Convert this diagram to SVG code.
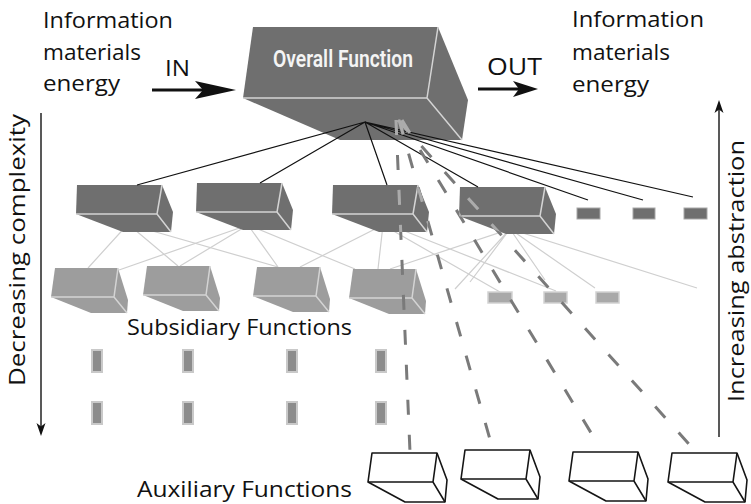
<svg xmlns="http://www.w3.org/2000/svg" xmlns:xlink="http://www.w3.org/1999/xlink" width="751" height="504" viewBox="0 0 751 504">
  <style>
    .lbl { font-family: "Open Sans", "Noto Sans", "DejaVu Sans", sans-serif; font-size: 21px; fill: #111; }
    .title { font-family: Roboto, "Open Sans", sans-serif; font-size: 24px; font-weight: 600; fill: #f4f4f4; }
    .dark { fill: #6f6f6f; }
    .mid { fill: #9d9d9d; }
    .hl { fill: none; stroke: #d4d4d4; stroke-width: 1.5; }
    .aux { fill: #fff; stroke: #151515; stroke-width: 1.6; stroke-linejoin: round; }
    .auxin { fill: none; stroke: #151515; stroke-width: 1.6; }
    .tie { stroke: #111; stroke-width: 1.2; fill: none; }
    .web { stroke: #cfcfcf; stroke-width: 1.2; fill: none; }
    .dash { stroke: #7a7a7a; stroke-width: 3; stroke-dasharray: 15 20; fill: none; }
    .dashlt { stroke: #ababab; stroke-width: 3; stroke-dasharray: 15 20; fill: none; }
    .big { stroke: #111; stroke-width: 3; fill: none; }
    .thin { stroke: #222; stroke-width: 1.5; fill: none; }
    .tokd { fill: #6f6f6f; stroke: #a8a8a8; stroke-width: 1; }
    .tokl { fill: #a9a9a9; stroke: #d2d2d2; stroke-width: 1.5; }
    .tokv { fill: #8c8c8c; stroke: #c9c9c9; stroke-width: 2; }
  </style>
  <defs>
    <!-- box shapes, drawn from the top-left corner of the front face -->
    <g id="boxDark">
      <path class="dark" d="M0,0 H85 L96,27 L94,47 H46 L-1,29 Z"/>
      <path class="hl" d="M-1,29 H80 L94,47 M85,0 L80,29"/>
    </g>
    <g id="boxMid">
      <path class="mid" d="M0,0 H63 L73,32 L72,45 H36 L-4,29 Z"/>
      <path class="hl" d="M-4,29 H59 L72,45 M63,0 L59,29"/>
    </g>
    <g id="boxOpen">
      <path class="aux" d="M0,0 H65 L75,27 L73,49 H33 L-4,29 Z"/>
      <path class="auxin" d="M-4,29 H61 L73,49 M65,0 L61,29"/>
    </g>
    <clipPath id="onDark">
      <path d="M253,27 H438 L468,100 L462,140 H340 L243,98 Z"/>
      <path d="M333,185 H418 L429,212 L427,232 H379 L332,214 Z"/>
      <path d="M460,187 H545 L556,214 L554,234 H506 L459,216 Z"/>
    </clipPath>
  </defs>

  <!-- light links between the second and third levels -->
  <g id="web">
    <path class="web" d="M128,224 L88,268 M128,224 L178,266 M128,224 L278,267"/>
    <path class="web" d="M248,225 L119,270 M248,225 L180,266 M248,225 L278,267 M248,225 L355,269"/>
    <path class="web" d="M383,225 L300,267 M383,225 L378,269 M383,225 L500,292 M392,226 L556,291"/>
    <path class="web" d="M510,229 L390,269 M510,229 L455,289 M510,229 L470,282 M510,229 L545,280 M510,229 L595,288 M510,229 L697,288"/>
  </g>

  <!-- top level -->
  <g id="overall">
    <path class="dark" d="M253,27 H438 L468,100 L462,140 H340 L243,98 Z"/>
    <path class="hl" d="M243,98 H427 L462,140 M438,27 L427,98"/>
    <text class="title" x="273" y="67" textLength="140" lengthAdjust="spacingAndGlyphs">Overall Function</text>
  </g>

  <!-- second level -->
  <g id="sub1"><use xlink:href="#boxDark" transform="translate(77,185)"/></g>
  <g id="sub2"><use xlink:href="#boxDark" transform="translate(197,183)"/></g>
  <g id="sub3"><use xlink:href="#boxDark" transform="translate(333,185)"/></g>
  <g id="sub4"><use xlink:href="#boxDark" transform="translate(460,187)"/></g>
  <g id="more2">
    <rect class="tokd" x="577" y="208" width="23" height="11"/>
    <rect class="tokd" x="633" y="208" width="22" height="11"/>
    <rect class="tokd" x="684" y="208" width="23" height="11"/>
  </g>

  <!-- third level -->
  <g id="subA"><use xlink:href="#boxMid" transform="translate(55,268)"/></g>
  <g id="subB"><use xlink:href="#boxMid" transform="translate(147,266)"/></g>
  <g id="subC"><use xlink:href="#boxMid" transform="translate(257,267)"/></g>
  <g id="subD"><use xlink:href="#boxMid" transform="translate(353,269)"/></g>
  <g id="more3">
    <rect class="tokl" x="488" y="292" width="24" height="11"/>
    <rect class="tokl" x="544" y="292" width="23" height="11"/>
    <rect class="tokl" x="596" y="292" width="23" height="11"/>
  </g>

  <!-- lower levels, continued -->
  <g id="moreLower">
    <rect class="tokv" x="92" y="350" width="10" height="22"/>
    <rect class="tokv" x="183" y="350" width="10" height="22"/>
    <rect class="tokv" x="287" y="350" width="10" height="22"/>
    <rect class="tokv" x="376" y="350" width="10" height="22"/>
    <rect class="tokv" x="92" y="402" width="10" height="22"/>
    <rect class="tokv" x="183" y="402" width="10" height="22"/>
    <rect class="tokv" x="287" y="402" width="10" height="22"/>
    <rect class="tokv" x="376" y="402" width="10" height="22"/>
  </g>

  <!-- auxiliary functions -->
  <g id="aux1"><use xlink:href="#boxOpen" transform="translate(372,453)"/></g>
  <g id="aux2"><use xlink:href="#boxOpen" transform="translate(465,450)"/></g>
  <g id="aux3"><use xlink:href="#boxOpen" transform="translate(573,452)"/></g>
  <g id="aux4"><use xlink:href="#boxOpen" transform="translate(672,453)"/></g>

  <!-- connectors -->
  <g id="connectors">
    <path class="tie" d="M365,122 L137,185 M365,122 L260,183 M365,122 L387,185 M365,122 L478,187 M365,122 L588,200 M365,122 L643,200 M365,122 L693,197"/>
    <g id="dashes">
      <path class="dash" d="M396,120 L410,452 M399,120 L493,450 M402,120 L599,446 M398,120 L697,453"/>
      <path class="dashlt" clip-path="url(#onDark)" d="M396,120 L410,452 M399,120 L493,450 M402,120 L599,446 M398,120 L697,453"/>
    </g>
    <!-- input / output arrows -->
    <path class="big" d="M152,90 H206"/>
    <path d="M236,90 L195,81 L203,90 L195,99 Z" fill="#111"/>
    <path class="big" d="M478,89 H522"/>
    <path d="M538,89 L513,81 L519,89 L513,97 Z" fill="#111"/>
    <!-- vertical axes -->
    <path class="thin" d="M41,113 V428"/>
    <path d="M41,436 L36.5,423 L41,426.5 L45.5,423 Z" fill="#111"/>
    <path class="thin" d="M719,437 V108"/>
    <path d="M719,100 L714.5,113 L719,109.5 L723.5,113 Z" fill="#111"/>
  </g>

  <!-- labels -->
  <g id="labels">
    <text class="lbl" x="43" y="28" textLength="130" lengthAdjust="spacingAndGlyphs">Information</text>
    <text class="lbl" x="43" y="60" textLength="98" lengthAdjust="spacingAndGlyphs">materials</text>
    <text class="lbl" x="43" y="91" textLength="77" lengthAdjust="spacingAndGlyphs">energy</text>
    <text class="lbl" x="165" y="76" textLength="25" lengthAdjust="spacingAndGlyphs" style="font-size:22px">IN</text>
    <text class="lbl" x="487" y="75" textLength="55" lengthAdjust="spacingAndGlyphs" style="font-size:23px">OUT</text>
    <text class="lbl" x="572" y="27" textLength="132" lengthAdjust="spacingAndGlyphs">Information</text>
    <text class="lbl" x="572" y="60" textLength="98" lengthAdjust="spacingAndGlyphs">materials</text>
    <text class="lbl" x="572" y="92" textLength="77" lengthAdjust="spacingAndGlyphs">energy</text>
    <text class="lbl" x="127" y="335" textLength="225" lengthAdjust="spacingAndGlyphs" style="font-size:22px">Subsidiary Functions</text>
    <text class="lbl" x="137" y="497" textLength="215" lengthAdjust="spacingAndGlyphs" style="font-size:22px">Auxiliary Functions</text>
    <text class="lbl" transform="translate(25,250) rotate(-90)" text-anchor="middle" textLength="272" lengthAdjust="spacingAndGlyphs">Decreasing complexity</text>
    <text class="lbl" transform="translate(744,271) rotate(-90)" text-anchor="middle" textLength="262" lengthAdjust="spacingAndGlyphs">Increasing abstraction</text>
  </g>
</svg>
